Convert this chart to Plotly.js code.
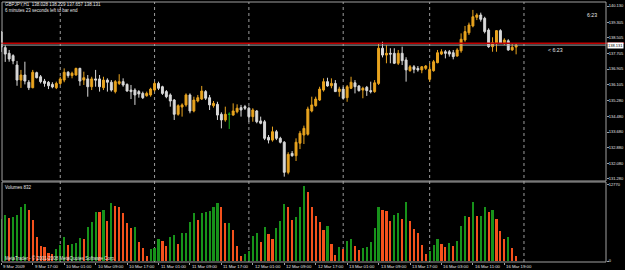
<!DOCTYPE html>
<html><head><meta charset="utf-8">
<script src="https://cdn.plot.ly/plotly-3.0.1.min.js"></script>
<style>html,body{margin:0;padding:0;background:#000;} #chart{width:625px;height:270px;}</style>
</head><body><div id="chart"></div>
<script>
// ---- data ----
const sessionDays = ['9 Mar','10 Mar','11 Mar','12 Mar','13 Mar','16 Mar'];
const sessionFirstHour = [9,0,0,0,0,0];
const sessionLastHour = [23,23,23,23,21,22];

const open = [138.80,138.00,137.71,137.59,137.11,136.34,136.60,136.23,135.95,136.72,
136.51,136.29,136.23,136.12,135.95,136.17,136.34,136.74,136.57,136.60,
136.94,136.34,136.40,136.00,136.40,136.40,135.95,136.34,136.23,135.75,
136.17,136.26,136.12,135.83,135.83,135.75,135.66,135.54,135.58,135.83,
136.17,136.00,135.75,135.58,135.32,134.59,134.96,135.07,135.58,134.76,
135.27,135.37,135.75,135.44,135.03,135.10,134.59,134.30,134.59,134.55,
134.72,134.93,134.98,134.90,134.47,134.76,134.25,134.21,133.41,133.27,
133.70,133.36,133.16,131.62,132.59,132.47,133.11,133.53,133.57,134.76,
135.03,135.32,135.83,136.26,136.05,136.17,135.75,135.88,135.44,135.92,
136.20,136.04,135.83,135.97,135.80,135.75,136.17,137.97,137.62,137.71,
137.71,137.20,137.71,137.37,136.82,137.02,136.94,136.86,136.94,136.38,
136.82,137.23,137.67,137.79,137.79,137.74,137.57,137.84,138.39,138.76,
139.11,139.55,139.67,139.50,138.90,138.05,138.22,138.87,138.25,138.35,
137.88,138.028];
const high = [138.85,138.13,137.88,137.66,137.32,136.86,137.28,136.34,136.86,136.77,
136.60,136.40,136.29,136.23,136.26,136.51,136.94,136.80,136.77,136.97,
136.97,136.77,136.60,136.51,136.86,136.60,136.51,136.43,136.34,136.34,
136.64,136.43,136.17,136.09,135.92,135.83,135.75,135.75,135.95,136.26,
136.26,136.05,135.83,135.66,135.37,135.10,135.15,135.66,135.66,135.49,
135.58,136.04,135.83,135.58,135.27,135.23,134.69,134.98,134.69,135.15,
135.10,135.07,135.07,134.98,134.90,134.81,134.47,134.30,133.53,133.96,
133.79,133.44,133.22,132.65,132.71,133.36,133.74,134.01,134.98,135.49,
135.49,136.00,136.43,136.46,136.43,136.34,136.00,136.00,136.09,136.51,
136.34,136.09,136.00,136.04,136.26,136.34,138.22,138.30,138.13,137.97,
137.97,137.88,138.05,137.51,137.11,137.11,137.06,137.06,137.11,137.20,
137.37,137.88,137.92,137.88,137.88,137.88,137.97,138.73,139.11,139.28,
139.93,139.76,139.79,139.58,138.99,138.53,138.90,138.94,138.48,138.43,
138.22,138.229];
const low = [137.78,137.27,137.28,137.15,136.05,135.94,136.12,135.83,135.92,136.43,
136.17,136.00,135.88,135.92,135.88,136.09,136.23,136.46,136.43,136.57,
136.05,136.09,135.49,135.83,136.00,135.75,135.83,135.75,135.75,135.66,
136.09,136.00,135.75,135.37,135.07,135.44,135.37,135.49,135.49,135.75,
135.83,135.58,135.41,134.98,134.30,134.52,134.47,134.98,134.64,134.69,
135.20,135.32,135.32,134.81,134.93,134.30,133.87,134.21,133.84,134.52,
134.64,134.47,134.81,134.21,134.21,134.13,134.08,133.27,133.10,133.19,
133.27,133.10,131.40,131.52,132.42,132.20,132.81,133.07,133.50,134.69,
134.98,135.27,135.75,136.00,135.92,135.75,135.49,135.37,135.23,135.88,
135.66,135.75,135.41,135.53,135.66,135.69,136.09,137.50,137.20,137.20,
137.16,137.11,137.11,136.26,136.77,136.69,136.77,136.69,136.86,136.26,
136.77,137.20,137.62,137.45,137.54,137.40,137.54,137.74,138.30,138.65,
139.04,139.41,139.33,138.73,137.99,137.79,137.79,138.19,138.13,137.84,
137.84,137.657];
const close = [138.03,137.67,137.42,137.32,136.34,136.60,136.29,135.95,136.74,136.46,
136.26,136.17,136.05,135.99,136.17,136.40,136.74,136.57,136.69,136.94,
136.29,136.46,136.00,136.40,136.34,136.00,136.34,136.23,135.83,136.26,
136.26,136.09,135.78,135.75,135.58,135.63,135.44,135.66,135.88,136.17,
135.92,135.66,135.49,135.27,134.59,135.03,135.07,135.58,134.76,135.32,
135.44,135.78,135.41,135.07,135.15,134.55,134.30,134.59,134.59,134.76,
134.90,134.81,134.90,134.47,134.81,134.21,134.13,133.36,133.27,133.70,
133.36,133.16,131.62,132.54,132.47,133.16,133.62,133.87,134.86,135.07,
135.37,135.88,136.26,136.04,136.17,135.75,135.88,135.41,136.00,136.23,
136.00,135.80,135.92,135.80,135.75,136.20,137.97,137.62,137.71,137.67,
137.20,137.71,137.33,136.86,137.02,136.89,136.86,137.02,137.06,136.89,
137.28,137.74,137.79,137.71,137.67,137.54,137.88,138.43,138.82,139.16,
139.58,139.67,139.45,138.82,138.05,138.25,138.87,138.22,138.39,137.88,
138.02,138.131];
const volume = [7000,7730,7170,7340,7730,9130,9580,8570,6890,3980,
2520,2300,1400,1180,1960,2690,3980,2690,2860,2970,
3810,3640,5660,6610,8290,8180,8570,6780,9800,9300,
9130,8010,6440,5600,5770,3250,2130,840,1960,2240,
3640,3420,2520,4000,4300,2860,4650,4760,6610,8120,
6890,8120,8290,8460,9130,9690,9130,6330,6440,5210,
2520,840,1180,1740,4200,4760,3250,5660,4540,3640,
5490,6780,9580,9020,6890,7340,9130,12600,11650,9130,
7560,6500,5210,5880,2860,1010,2410,1960,3420,3640,
2520,1850,2240,2410,3250,5490,9130,8570,8400,6780,
7730,8010,7060,9970,6720,5320,4650,2690,1180,1680,
2690,3700,2860,2410,3080,2520,3420,5940,7560,7450,
9860,7560,7620,9130,8290,8510,7000,5040,3750,4030,
2180,832];
const priceTicks = [140.130,139.305,138.505,137.705,136.905,136.105,135.280,134.480,133.680,132.880,132.080,131.280];
const volumeTicks = [0,12770];
const symbol = 'GBPJPY,H1';
const bidPrice = 138.131;
const redLevel = 138.22;
const timerText = '6:23';

// ---- build ----
const bars = [];
sessionDays.forEach((d,k)=>{ for(let h=sessionFirstHour[k]; h<=sessionLastHour[k]; h++) bars.push({day:d,hour:h}); });
const idx = bars.map((_,i)=>i);
const pad = h => (h<10?'0':'')+h;
const labelIdx = idx.filter(i=>i%8===0);
const labelText = labelIdx.map(i=> i===0 ? bars[0].day+' 2009' : bars[i].day+' '+pad(bars[i].hour)+':00');
const dayStarts = idx.filter(i=>bars[i].hour===0);
const lastI = idx.length-1;
dayStarts.push(lastI + (24 - bars[lastI].hour));

const FONT = 'Liberation Sans';
const TXT = '#e6e6e6';
const BULL = '#e9a41f', BEAR = '#d9d9d9';
const VUP = '#17921a', VDN = '#f5511c';

const normal = idx.filter(i=>open[i]!==close[i]);
const doji = idx.filter(i=>open[i]===close[i]);
const pick = (a,s)=>s.map(i=>a[i]);

const traces = [
 {type:'candlestick', x:normal, open:pick(open,normal), high:pick(high,normal), low:pick(low,normal), close:pick(close,normal),
  xaxis:'x', yaxis:'y', whiskerwidth:0,
  increasing:{line:{color:BULL,width:1}, fillcolor:BULL},
  decreasing:{line:{color:BEAR,width:1}, fillcolor:BEAR}, hoverinfo:'skip'},
 {type:'candlestick', x:doji, open:pick(open,doji), high:pick(high,doji), low:pick(low,doji), close:pick(close,doji),
  xaxis:'x', yaxis:'y', whiskerwidth:0,
  increasing:{line:{color:'#19b019',width:1}, fillcolor:'#19b019'},
  decreasing:{line:{color:'#19b019',width:1}, fillcolor:'#19b019'}, hoverinfo:'skip'},
 {type:'bar', x:idx, y:volume, xaxis:'x', yaxis:'y2', width:0.55,
  marker:{color:volume.map((v,i)=> (i===0 || v>volume[i-1]) ? VUP : VDN), line:{width:0}}, hoverinfo:'skip'}
];

const top1 = 1, bot1 = (262-181)/260, top2 = (262-182)/260;
const shapes = [];
dayStarts.forEach(g=>shapes.push({type:'line', xref:'x', yref:'paper', x0:g, x1:g, y0:0, y1:1, line:{color:'#9c9c9c', width:1, dash:'dot'}, layer:'below'}));
shapes.push({type:'line', xref:'paper', yref:'y', x0:0, x1:1.03, y0:redLevel, y1:redLevel, line:{color:'#c00000', width:1.5}});
shapes.push({type:'line', xref:'paper', yref:'y', x0:0, x1:1, y0:bidPrice, y1:bidPrice, line:{color:'#a8a8a8', width:1}});
shapes.push({type:'rect', xref:'paper', yref:'paper', x0:0.0017, x1:1, y0:bot1, y1:top1, line:{color:'#a0a0a0', width:1}});
shapes.push({type:'rect', xref:'paper', yref:'paper', x0:0.0017, x1:1, y0:0, y1:top2, line:{color:'#a0a0a0', width:1}});

const f = s=>({family:FONT, size:s, color:TXT});
const PW = 605;
const annotations = [
 {xref:'paper', yref:'paper', x:2/PW, y:(262-5)/260, xanchor:'left', yanchor:'middle', showarrow:false, font:f(4.5),
  text: symbol+'  '+open[lastI].toFixed(3)+' '+high[lastI].toFixed(3)+' '+low[lastI].toFixed(3)+' '+close[lastI].toFixed(3)},
 {xref:'paper', yref:'paper', x:2/PW, y:(262-10.5)/260, xanchor:'left', yanchor:'middle', showarrow:false, font:f(4.5),
  text:'6 minutes 23 seconds left to bar end'},
 {xref:'paper', yref:'paper', x:(585-1)/PW, y:(262-15)/260, xanchor:'left', yanchor:'middle', showarrow:false, font:f(5.2), text:timerText},
 {xref:'paper', yref:'paper', x:(546-1)/PW, y:(262-50)/260, xanchor:'left', yanchor:'middle', showarrow:false, font:f(5.2), text:'&lt; '+timerText},
 {xref:'paper', yref:'paper', x:2/PW, y:(262-187)/260, xanchor:'left', yanchor:'middle', showarrow:false, font:f(4.5), text:'Volumes '+volume[lastI]},
 {xref:'paper', yref:'paper', x:2/PW, y:(262-258)/260, xanchor:'left', yanchor:'middle', showarrow:false, font:f(4.5), text:'MetaTrader - © 2001-2008 MetaQuotes Software Corp.'},
 {xref:'paper', yref:'y', x:1.002, y:bidPrice, xanchor:'left', yanchor:'middle', showarrow:false, bgcolor:'#ffffff', borderpad:0,
  font:{family:FONT,size:4,color:'#000'}, text:bidPrice.toFixed(3)}
];
labelIdx.forEach((v,k)=>annotations.push({xref:'x', yref:'paper', x:v, y:(262-266)/260, xanchor:'left', yanchor:'middle',
  showarrow:false, font:f(4.3), text:labelText[k]}));

const layout = {
 width:625, height:270, paper_bgcolor:'#000', plot_bgcolor:'#000',
 margin:{l:1, r:19, t:2, b:8, pad:0}, showlegend:false, hovermode:false, bargap:0,
 xaxis:{range:[-0.076,153.87], anchor:'y2', showgrid:false, zeroline:false, showline:false,
   tickmode:'array', tickvals:labelIdx, showticklabels:false, ticks:'outside', ticklen:2, tickcolor:'#a0a0a0',
   rangeslider:{visible:false}, fixedrange:true},
 yaxis:{domain:[bot1,top1], range:[131.177,140.335], side:'right', anchor:'x', showgrid:false, zeroline:false, showline:false,
   tickmode:'array', tickvals:priceTicks, ticktext:priceTicks.map(v=>v.toFixed(3)), ticks:'outside', ticklen:2, tickcolor:'#a0a0a0',
   ticklabelstandoff:-1, tickfont:f(4), fixedrange:true},
 yaxis2:{domain:[0,top2], range:[-168,13272], side:'right', anchor:'x', showgrid:false, zeroline:false, showline:false,
   tickmode:'array', tickvals:volumeTicks, ticktext:volumeTicks.map(String), ticks:'outside', ticklen:2, tickcolor:'#a0a0a0',
   ticklabelstandoff:-1, tickfont:f(4), fixedrange:true},
 shapes:shapes, annotations:annotations
};
Plotly.newPlot('chart', traces, layout, {displayModeBar:false, staticPlot:true});
</script></body></html>
